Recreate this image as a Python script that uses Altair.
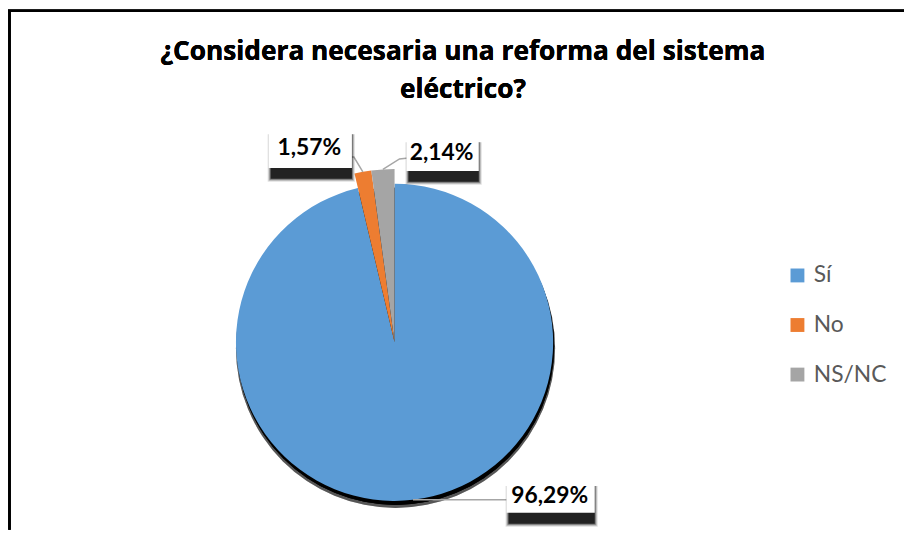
import math
import altair as alt
import pandas as pd

# ---- data ----
categories = ["Sí", "No", "NS/NC"]
values = [96.29, 1.57, 2.14]
value_labels = ["96,29%", "1,57%", "2,14%"]
colors = ["#5B9BD5", "#ED7D31", "#A5A5A5"]
title_lines = ["¿Considera necesaria una reforma del sistema", "eléctrico?"]

# ---- layout (chart pixels) ----
W, H = 904, 524
CX, CY = 390, 335
R_MAIN, R_SMALL = 160, 175
FONT = "Lato"
TITLE_FONT = "Open Sans"
# label boxes: x0, x1, y0, y1
BOX = {"Sí": (503, 592, 472, 507), "No": (263, 347, 117, 159), "NS/NC": (402, 475, 125, 162)}
# leader line: extra points after the slice anchor
LEADER = {"Sí": [(503, None)], "No": [(349, 148), (335, 148)], "NS/NC": [(395, 150), (404, 149)]}

df = pd.DataFrame({"cat": categories, "value": values, "label": value_labels})
total = sum(values)

# anchors of leader lines from the slice mid-angles
rows = []
cum = 0.0
for c, v in zip(categories, values):
    mid = (cum + v / 2) / total * 2 * math.pi
    cum += v
    r = R_MAIN if c == "Sí" else R_SMALL
    ax, ay = CX + r * math.sin(mid), CY - r * math.cos(mid)
    pts = [(ax, ay)] + [(px, ay if py is None else py) for px, py in LEADER[c]]
    for i, (px, py) in enumerate(pts):
        rows.append({"cat": c, "pt": i, "lx": px, "ly": py})
leaders = pd.DataFrame(rows)

boxes = pd.DataFrame([
    {"cat": c, "x0": BOX[c][0], "x1": BOX[c][1], "y0": BOX[c][2], "y1": BOX[c][3], "label": l}
    for c, l in zip(categories, value_labels)
])

color_scale = alt.Scale(domain=categories, range=colors)
idx_expr = "indexof(" + str(categories).replace("'", '"') + ", datum.cat)"

# border
border_left = alt.Chart(df).mark_rule(color="black", strokeWidth=2.5).encode(
    x=alt.value(1.5), y=alt.value(0), y2=alt.value(H))
border_top = alt.Chart(df).mark_rule(color="black", strokeWidth=2.5).encode(
    x=alt.value(0), x2=alt.value(W), y=alt.value(0.5))

# title
title1 = alt.Chart(df).mark_text(text=title_lines[0], font=TITLE_FONT, fontSize=26.5, fontWeight="bold",
                                  color="black", baseline="middle", align="center").encode(
    x=alt.value(459), y=alt.value(42))
title2 = alt.Chart(df).mark_text(text=title_lines[1], font=TITLE_FONT, fontSize=26.5, fontWeight="bold",
                                  color="black", baseline="middle", align="center").encode(
    x=alt.value(459), y=alt.value(80))

# pie shadow
shadow1 = alt.Chart(df).mark_arc(theta=0, theta2=2 * math.pi, radius=R_MAIN + 1, color="black",
                                 opacity=0.3).encode(x=alt.value(CX + 1), y=alt.value(CY + 6))
shadow2 = alt.Chart(df).mark_arc(theta=0, theta2=2 * math.pi, radius=R_MAIN, color="black",
                                 opacity=0.85).encode(x=alt.value(CX + 1), y=alt.value(CY + 4))

pie = alt.Chart(df).transform_calculate(
    idx=idx_expr,
    r=f"datum.cat == 'Sí' ? {R_MAIN} : {R_SMALL}",
).transform_joinaggregate(
    tot="sum(value)"
).transform_window(
    cum="sum(value)", sort=[alt.SortField("idx", order="ascending")], frame=[None, 0]
).transform_calculate(
    t0="(datum.cum - datum.value) / datum.tot", t1="datum.cum / datum.tot"
).mark_arc().encode(
    theta=alt.Theta("t0:Q", scale=alt.Scale(domain=[0, 1], range=[0, 2 * math.pi])),
    theta2="t1:Q",
    radius=alt.Radius("r:Q", scale=None),
    color=alt.Color("cat:N", scale=color_scale, legend=None),
    x=alt.value(CX), y=alt.value(CY),
)

leader_lines = alt.Chart(leaders).mark_line(color="#A6A6A6", strokeWidth=1.5).encode(
    x=alt.X("lx:Q", scale=None, axis=None),
    y=alt.Y("ly:Q", scale=None, axis=None),
    detail="cat:N",
    order="pt:Q",
)


def shadow_layer(dx0, dx1, dy0, dy1, op):
    return alt.Chart(boxes).transform_calculate(
        sx0=f"datum.x0 + {dx0}", sx1=f"datum.x1 + {dx1}",
        sy0=f"datum.y0 + {dy0}", sy1=f"datum.y1 + {dy1}"
    ).mark_rect(color="black", opacity=op).encode(
        x=alt.X("sx0:Q", scale=None), x2="sx1:Q", y=alt.Y("sy0:Q", scale=None), y2="sy1:Q")


box_shadows = [
    shadow_layer(-1, 3, 8, 14, 0.12),
    shadow_layer(0, 2, 8, 13, 0.2),
    shadow_layer(1, 1, 8, 12, 0.35),
    shadow_layer(2, 0, 8, 11, 0.7),
]
box = alt.Chart(boxes).mark_rect(color="white").encode(
    x=alt.X("x0:Q", scale=None), x2="x1:Q", y=alt.Y("y0:Q", scale=None), y2="y1:Q")
box_text = alt.Chart(boxes).transform_calculate(
    tx="(datum.x0 + datum.x1) / 2 - 1", ty="(datum.y0 + datum.y1) / 2 + 1"
).mark_text(font=FONT, fontSize=23, fontWeight="bold", color="black",
            baseline="middle", align="center").encode(
    x=alt.X("tx:Q", scale=None), y=alt.Y("ty:Q", scale=None), text="label:N")

# legend
leg_sym = alt.Chart(df).transform_calculate(
    idx=idx_expr, ly="267.5 + datum.idx * 50"
).mark_square(size=196, opacity=1, filled=True).encode(
    x=alt.value(796.5), y=alt.Y("ly:Q", scale=None),
    color=alt.Color("cat:N", scale=color_scale, legend=None))
leg_txt = alt.Chart(df).transform_calculate(
    idx=idx_expr, ly="267.5 + datum.idx * 50"
).mark_text(font=FONT, fontSize=23, color="#595959", align="left", baseline="middle").encode(
    x=alt.value(813), y=alt.Y("ly:Q", scale=None), text="cat:N")

chart = alt.layer(
    border_left, border_top, title1, title2, shadow1, shadow2, pie, leader_lines,
    *box_shadows, box, box_text, leg_sym, leg_txt,
).properties(
    width=W, height=H, padding=0, autosize=alt.AutoSizeParams(type="none"), background="white"
).configure_view(stroke=None)

chart.save("out.html", embed_options={"renderer": "svg", "actions": False})
